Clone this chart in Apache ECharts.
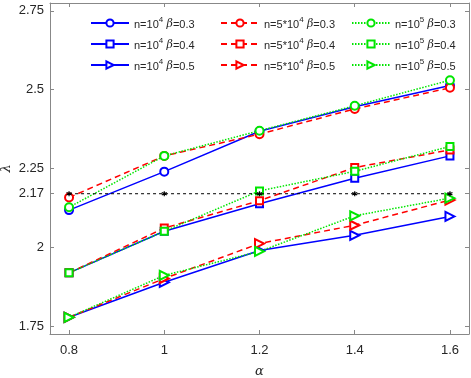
<!DOCTYPE html>
<html>
<head>
<meta charset="utf-8">
<script src="https://cdn.jsdelivr.net/npm/echarts@6/dist/echarts.min.js"></script>
<style>
  html, body { margin: 0; padding: 0; background: #fff; }
  #main { width: 471px; height: 378px; }
</style>
</head>
<body>
<div id="main"></div>
<script>
// x values (alpha)
var alpha = [0.8, 1.0, 1.2, 1.4, 1.6];
var xTicks = [0.8, 1, 1.2, 1.4, 1.6];
var yTicks = [1.75, 2, 2.17, 2.25, 2.5, 2.75];

// lambda values
var n1e4_b03 = [2.118, 2.240, 2.368, 2.446, 2.513];
var n1e4_b04 = [1.919, 2.051, 2.138, 2.219, 2.290];
var n1e4_b05 = [1.778, 1.889, 1.990, 2.038, 2.098];
var n5e4_b03 = [2.158, 2.290, 2.359, 2.439, 2.506];
var n5e4_b04 = [1.919, 2.061, 2.148, 2.253, 2.309];
var n5e4_b05 = [1.778, 1.901, 2.012, 2.070, 2.150];
var n1e5_b03 = [2.127, 2.290, 2.370, 2.449, 2.530];
var n1e5_b04 = [1.919, 2.051, 2.179, 2.241, 2.320];
var n1e5_b05 = [1.778, 1.911, 1.987, 2.100, 2.156];
var refLine = [2.17, 2.17, 2.17, 2.17, 2.17];

var myChart = echarts.init(document.getElementById('main'));

function pairs(ys) {
  return alpha.map(function (x, i) { return [x, ys[i]]; });
}

var BLUE = '#0000ff', RED = '#ff0000', GREEN = '#00e600';
var FONT = '"Liberation Sans", Arial, sans-serif';

// rich legend labels
var labels = {
  'a1': '{t|n=10}{s|4} {b|β}{t|=0.3}',
  'a2': '{t|n=10}{s|4} {b|β}{t|=0.4}',
  'a3': '{t|n=10}{s|4} {b|β}{t|=0.5}',
  'b1': '{t|n=5*10}{s|4} {b|β}{t|=0.3}',
  'b2': '{t|n=5*10}{s|4} {b|β}{t|=0.4}',
  'b3': '{t|n=5*10}{s|4} {b|β}{t|=0.5}',
  'c1': '{t|n=10}{s|5} {b|β}{t|=0.3}',
  'c2': '{t|n=10}{s|5} {b|β}{t|=0.4}',
  'c3': '{t|n=10}{s|5} {b|β}{t|=0.5}'
};
var rich = {
  t: { fontSize: 11, fontFamily: FONT, color: '#262626', verticalAlign: 'bottom', lineHeight: 14 },
  s: { fontSize: 8, fontFamily: FONT, color: '#262626', verticalAlign: 'top', padding: [0, 0, 7, 0], lineHeight: 14 },
  b: { fontSize: 11, fontFamily: '"DejaVu Serif", serif', fontStyle: 'italic', color: '#262626', verticalAlign: 'bottom', lineHeight: 14 }
};

function mkSeries(name, ys, color, dash, symbol, size, rot) {
  return {
    name: name,
    type: 'line',
    data: pairs(ys),
    symbol: symbol,
    symbolSize: size,
    symbolRotate: rot || 0,
    showAllSymbol: true,
    color: color,
    lineStyle: { color: color, width: 1.5, type: dash },
    itemStyle: { color: color, borderColor: color, borderWidth: 1.3 },
    emphasis: { disabled: true },
    z: 3
  };
}

function mkLegend(left, names) {
  return {
    orient: 'vertical',
    left: left,
    top: 11,
    itemWidth: 38,
    itemHeight: 9,
    itemGap: 6,
    data: names,
    formatter: function (n) { return labels[n]; },
    textStyle: { rich: rich },
    selectedMode: false
  };
}

function tickAxisX(show) {
  return {
    type: 'value', min: 0.76, max: 1.64,
    position: show ? 'bottom' : 'top',
    name: show ? 'α' : '',
    nameLocation: 'middle', nameGap: 31, nameMoveOverlap: false,
    nameTextStyle: { fontFamily: '"DejaVu Serif", serif', fontStyle: 'italic', fontSize: 13, color: '#262626' },
    axisLine: { show: true, onZero: false, lineStyle: { color: '#888', width: 1 } },
    axisTick: { show: true, inside: true, length: 4, customValues: xTicks, lineStyle: { color: '#888' } },
    axisLabel: { show: show, customValues: xTicks, margin: 10, fontSize: 13, fontFamily: FONT, color: '#262626' },
    splitLine: { show: false }
  };
}

function tickAxisY(show) {
  return {
    type: 'value', min: 1.725, max: 2.775,
    position: show ? 'left' : 'right',
    name: show ? 'λ' : '',
    nameLocation: 'middle', nameGap: 37, nameMoveOverlap: false,
    nameTextStyle: { fontFamily: '"DejaVu Serif", serif', fontStyle: 'italic', fontSize: 13, color: '#262626' },
    axisLine: { show: true, onZero: false, lineStyle: { color: '#888', width: 1 } },
    axisTick: { show: true, inside: true, length: 4, customValues: yTicks, lineStyle: { color: '#888' } },
    axisLabel: { show: show, customValues: yTicks, margin: 6, fontSize: 13, fontFamily: FONT, color: '#262626' },
    splitLine: { show: false }
  };
}

var ASTERISK = 'path://M0,-5L0,5M-4.3,-2.5L4.3,2.5M-4.3,2.5L4.3,-2.5';

var option = {
  animation: false,
  backgroundColor: '#fff',
  grid: { left: 50, right: 2, top: 3, bottom: 44, outerBoundsMode: 'none', containLabel: false },
  legend: [
    mkLegend(85, ['a1', 'a2', 'a3']),
    mkLegend(215, ['b1', 'b2', 'b3']),
    mkLegend(346, ['c1', 'c2', 'c3'])
  ],
  xAxis: [tickAxisX(true), tickAxisX(false)],
  yAxis: [tickAxisY(true), tickAxisY(false)],
  series: [
    mkSeries('a1', n1e4_b03, BLUE, 'solid', 'emptyCircle', 8),
    mkSeries('a2', n1e4_b04, BLUE, 'solid', 'emptyRect', 7),
    mkSeries('a3', n1e4_b05, BLUE, 'solid', 'emptyTriangle', 9, -90),
    mkSeries('b1', n5e4_b03, RED, [6, 4], 'emptyCircle', 8),
    mkSeries('b2', n5e4_b04, RED, [6, 4], 'emptyRect', 7),
    mkSeries('b3', n5e4_b05, RED, [6, 4], 'emptyTriangle', 9, -90),
    mkSeries('c1', n1e5_b03, GREEN, [1.5, 1.5], 'emptyCircle', 8),
    mkSeries('c2', n1e5_b04, GREEN, [1.5, 1.5], 'emptyRect', 7),
    mkSeries('c3', n1e5_b05, GREEN, [1.5, 1.5], 'emptyTriangle', 9, -90),
    {
      name: 'ref',
      type: 'line',
      data: pairs(refLine),
      symbol: ASTERISK,
      symbolSize: 5,
      lineStyle: { color: '#000', width: 1, type: [3, 3] },
      itemStyle: { color: '#000', borderColor: '#000', borderWidth: 1.2 },
      emphasis: { disabled: true },
      z: 4
    }
  ]
};
myChart.setOption(option);
</script>
</body>
</html>
